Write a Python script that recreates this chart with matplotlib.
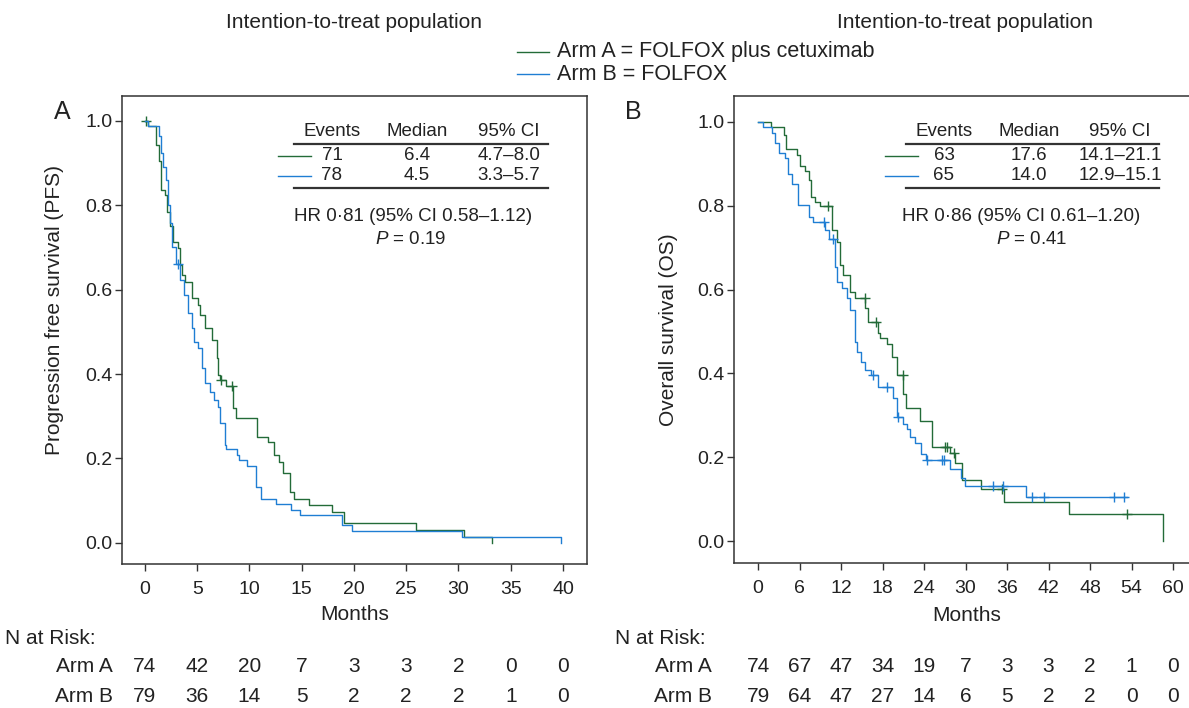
import numpy as np
import matplotlib
matplotlib.use("Agg")
import matplotlib.pyplot as plt
from matplotlib.lines import Line2D
from matplotlib.transforms import blended_transform_factory

plt.rcParams['font.family'] = ['Liberation Sans', 'DejaVu Sans']
plt.rcParams['mathtext.fontset'] = 'custom'
plt.rcParams['mathtext.it'] = 'Liberation Sans:italic'
plt.rcParams['mathtext.rm'] = 'Liberation Sans'

GREEN = '#236b38'
BLUE = '#1f7ed3'
INK = '#222222'
W, H = 1189, 708
FS = 15        # titles, labels, at-risk table
FS_TICK = 14
FS_TAB = 13.5  # inset table

# ---- Panel A: progression free survival ----
pfs_a_t = [0, 0.32, 1.05, 1.37, 1.56, 1.9, 2.07, 2.39, 2.71, 3.19, 3.35, 3.5, 3.83, 4.47, 5.1,
           5.26, 5.74, 6.38, 6.86, 7.0, 7.2, 7.8, 8.45, 8.68, 10.7, 11.8, 12.3, 12.8, 13.2, 13.9,
           14.3, 15.7, 17.9, 19.0, 25.9, 30.5, 33.2]
pfs_a_s = [1.0, 0.989, 0.943, 0.904, 0.836, 0.825, 0.785, 0.750, 0.714, 0.698, 0.658, 0.635,
           0.619, 0.580, 0.564, 0.540, 0.509, 0.481, 0.438, 0.398, 0.386, 0.372, 0.319, 0.297,
           0.252, 0.240, 0.208, 0.192, 0.165, 0.121, 0.103, 0.090, 0.074, 0.046, 0.031, 0.015, 0.0]
pfs_a_cens = [0.05, 7.3, 8.3]

pfs_b_t = [0, 0.3, 1.37, 1.5, 1.75, 2.0, 2.17, 2.39, 2.62, 2.95, 3.35, 3.73, 4.15, 4.47, 4.69,
           5.1, 5.42, 5.74, 6.2, 6.6, 7.0, 7.2, 7.66, 7.8, 8.77, 9.0, 9.8, 10.6, 11.07, 12.5,
           14.0, 14.8, 18.9, 19.8, 30.3, 39.8]
pfs_b_s = [1.0, 0.989, 0.965, 0.923, 0.891, 0.860, 0.800, 0.757, 0.700, 0.661, 0.622, 0.588,
           0.544, 0.509, 0.477, 0.461, 0.414, 0.378, 0.358, 0.338, 0.322, 0.283, 0.231, 0.223,
           0.208, 0.196, 0.183, 0.133, 0.103, 0.091, 0.078, 0.066, 0.043, 0.029, 0.015, 0.0]
pfs_b_cens = [3.19]

pfs_ticks = [0, 5, 10, 15, 20, 25, 30, 35, 40]
pfs_risk_a = [74, 42, 20, 7, 3, 3, 2, 0, 0]
pfs_risk_b = [79, 36, 14, 5, 2, 2, 2, 1, 0]
pfs_table = [['71', '6.4', '4.7–8.0'], ['78', '4.5', '3.3–5.7']]
pfs_hr = 'HR 0·81 (95% CI 0.58–1.12)'
pfs_p = '0.19'

# ---- Panel B: overall survival ----
os_a_t = [0, 1.83, 3.76, 4.05, 5.59, 6.07, 6.79, 7.37, 7.66, 8.24, 8.96, 10.65, 11.47, 11.85,
          12.33, 13.3, 14.0, 15.47, 15.95, 17.3, 17.6, 18.6, 19.3, 20.05, 21.0, 21.45, 23.4,
          25.1, 27.8, 28.5, 29.5, 32.3, 35.5, 44.9, 58.6]
os_a_s = [1.0, 0.989, 0.969, 0.936, 0.921, 0.895, 0.882, 0.862, 0.822, 0.810, 0.800, 0.742,
          0.714, 0.659, 0.635, 0.595, 0.580, 0.555, 0.523, 0.496, 0.484, 0.470, 0.440, 0.396,
          0.350, 0.318, 0.286, 0.225, 0.209, 0.185, 0.145, 0.125, 0.094, 0.064, 0.0]
os_a_cens = [10.07, 15.4, 17.06, 20.9, 27.0, 27.3, 28.3, 35.3, 53.4]

os_b_t = [0, 0.77, 1.98, 2.46, 3.08, 3.9, 4.39, 4.96, 5.84, 7.37, 7.9, 9.69, 10.3, 11.1, 11.47,
          12.1, 12.8, 13.3, 14.0, 14.3, 14.84, 15.4, 16.4, 17.4, 19.5, 20.1, 21.0, 21.5, 21.97,
          22.7, 23.5, 24.3, 27.8, 29.4, 29.9, 38.8, 53.3]
os_b_s = [1.0, 0.989, 0.973, 0.949, 0.925, 0.913, 0.876, 0.851, 0.802, 0.774, 0.761, 0.742,
          0.721, 0.655, 0.619, 0.603, 0.580, 0.551, 0.476, 0.452, 0.428, 0.408, 0.396, 0.368,
          0.341, 0.296, 0.280, 0.268, 0.249, 0.233, 0.207, 0.193, 0.173, 0.150, 0.132, 0.104, 0.104]
os_b_cens = [9.6, 10.9, 16.6, 18.6, 20.2, 24.5, 26.6, 26.9, 34.0, 35.4, 39.6, 41.3, 51.5, 52.9]

os_ticks = [0, 6, 12, 18, 24, 30, 36, 42, 48, 54, 60]
os_risk_a = [74, 67, 47, 34, 19, 7, 3, 3, 2, 1, 0]
os_risk_b = [79, 64, 47, 27, 14, 6, 5, 2, 2, 0, 0]
os_table = [['63', '17.6', '14.1–21.1'], ['65', '14.0', '12.9–15.1']]
os_hr = 'HR 0·86 (95% CI 0.61–1.20)'
os_p = '0.41'


def fx(x):
    return x / W


def fy(y):
    return 1 - y / H


def step_value(t, s, x):
    i = np.searchsorted(t, x, side='right') - 1
    return np.asarray(s)[i]


def draw_km(ax, t, s, cens, color):
    ax.step(t, s, where='post', color=color, lw=1.0)
    cs = [step_value(t, s, c) for c in cens]
    ax.plot(cens, cs, '+', color=color, ms=7, mew=1.0)


def style_axes(ax, ticks):
    ax.set_xticks(ticks)
    ax.set_yticks([0, 0.2, 0.4, 0.6, 0.8, 1.0])
    ax.set_yticklabels(['0.0', '0.2', '0.4', '0.6', '0.8', '1.0'])
    ax.tick_params(axis='x', length=5, width=1.0, color='#333333', pad=7,
                   labelsize=FS_TICK, labelcolor=INK)
    ax.tick_params(axis='y', length=5, width=1.0, color='#333333', pad=2,
                   labelsize=FS_TICK, labelcolor=INK)
    for sp in ax.spines.values():
        sp.set_linewidth(1.1)
        sp.set_color('#333333')


def table(fig, cols, rows, line_x, leg_x, hr, hr_x, p, p_x):
    for x, lab in zip(cols, ['Events', 'Median', '95% CI']):
        fig.text(fx(x), fy(131), lab, ha='center', va='center', fontsize=FS_TAB, color=INK)
    for yy in (144, 188):
        fig.add_artist(Line2D([fx(line_x[0]), fx(line_x[1])], [fy(yy), fy(yy)],
                              color='#333333', lw=1.6))
    for row, yy, col in zip(rows, (156, 176), (GREEN, BLUE)):
        fig.add_artist(Line2D([fx(leg_x[0]), fx(leg_x[1])], [fy(yy), fy(yy)], color=col, lw=1.0))
        for x, v in zip(cols, row):
            fig.text(fx(x), fy(yy), v, ha='center', va='center', fontsize=FS_TAB, color=INK)
    fig.text(fx(hr_x), fy(216), hr, ha='center', va='center', fontsize=FS_TAB, color=INK)
    fig.text(fx(p_x), fy(239), r'$P$ = ' + p, ha='center', va='center', fontsize=FS_TAB,
             color=INK)


def risk_rows(fig, ax, ticks, ra, rb, label_x, nrisk_x):
    tr = blended_transform_factory(ax.transData, fig.transFigure)
    fig.text(fx(nrisk_x), fy(639), 'N at Risk:', ha='left', va='center', fontsize=FS, color=INK)
    for lab, vals, yy in (('Arm A', ra, 667), ('Arm B', rb, 696)):
        fig.text(fx(label_x), fy(yy), lab, ha='right', va='center', fontsize=FS, color=INK)
        for x, v in zip(ticks, vals):
            ax.text(x, fy(yy), str(v), transform=tr, ha='center', va='center',
                    fontsize=FS, color=INK, clip_on=False)


fig = plt.figure(figsize=(W / 100, H / 100), dpi=100)

# panel A axes: spans px 122..587 x 96..564
axA = fig.add_axes([fx(122), fy(564), (587 - 122) / W, (564 - 96) / H])
draw_km(axA, pfs_a_t, pfs_a_s, pfs_a_cens, GREEN)
draw_km(axA, pfs_b_t, pfs_b_s, pfs_b_cens, BLUE)
axA.set_xlim(-2.2, 42.3)
axA.set_ylim(-0.05, 1.059)
style_axes(axA, pfs_ticks)
axA.set_xlabel('Months', fontsize=FS, color=INK, labelpad=5)

# panel B axes: runs off the right edge of the figure
axB = fig.add_axes([fx(734), fy(563), (1200 - 734) / W, (563 - 96) / H])
draw_km(axB, os_a_t, os_a_s, os_a_cens, GREEN)
draw_km(axB, os_b_t, os_b_s, os_b_cens, BLUE)
axB.set_xlim(-3.47, 63.9)
axB.set_ylim(-0.0525, 1.062)
style_axes(axB, os_ticks)
axB.set_xlabel('Months', fontsize=FS, color=INK, labelpad=7)

fig.text(fx(55), fy(310), 'Progression free survival (PFS)', rotation=90,
         ha='center', va='center', fontsize=FS, color=INK)
fig.text(fx(668), fy(330), 'Overall survival (OS)', rotation=90,
         ha='center', va='center', fontsize=FS, color=INK)

fig.text(fx(62), fy(112), 'A', ha='center', va='center', fontsize=18, color=INK)
fig.text(fx(633), fy(112), 'B', ha='center', va='center', fontsize=18, color=INK)

fig.text(fx(354), fy(22), 'Intention-to-treat population', ha='center', va='center',
         fontsize=FS, color=INK)
fig.text(fx(965), fy(22), 'Intention-to-treat population', ha='center', va='center',
         fontsize=FS, color=INK)

# top legend
for lab, yy, col in (('Arm A = FOLFOX plus cetuximab', 52, GREEN), ('Arm B = FOLFOX', 74, BLUE)):
    fig.add_artist(Line2D([fx(517), fx(549)], [fy(yy), fy(yy)], color=col, lw=1.0))
    fig.text(fx(557), fy(yy), lab, ha='left', va='center', fontsize=15.5, color=INK)

table(fig, [332, 417, 509], pfs_table, (294, 548), (278, 311), pfs_hr, 413, pfs_p, 411)
table(fig, [944, 1029, 1120], os_table, (906, 1159), (885, 918), os_hr, 1021, os_p, 1032)

risk_rows(fig, axA, pfs_ticks, pfs_risk_a, pfs_risk_b, 113, 5)
risk_rows(fig, axB, os_ticks, os_risk_a, os_risk_b, 712, 615)

fig.savefig('out.png', dpi=100)
